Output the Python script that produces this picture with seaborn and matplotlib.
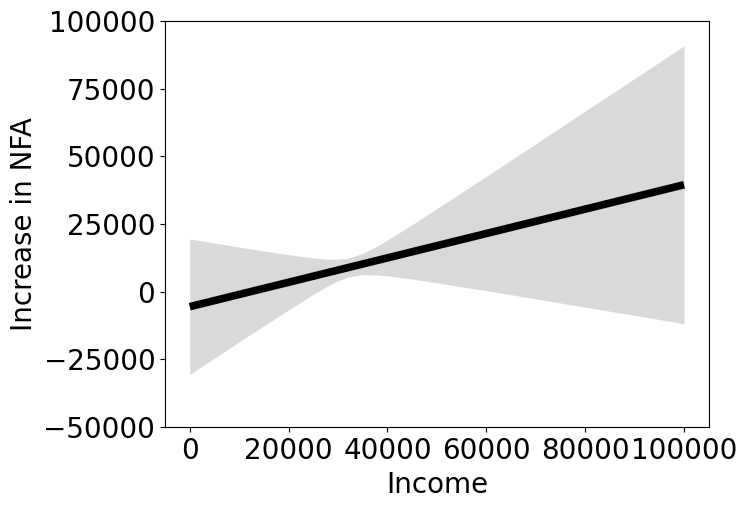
import numpy as np
import pandas as pd
import seaborn as sns
import matplotlib.pyplot as plt

# values (income, fitted NFA increase, band edges)
income = [0, 10000, 15000, 20000, 25000, 28000, 30000, 32000, 35000, 38000,
          40000, 45000, 50000, 60000, 70000, 80000, 90000, 100000]
fitted = [-5500, -1000, 1250, 3500, 5750, 7100, 8000, 8900, 10250, 11600,
          12500, 14750, 17000, 21500, 26000, 30500, 35000, 39500]
upper = [19500, 16500, 15050, 13700, 12450, 12000, 12000, 12400, 14150, 17000,
         19100, 24800, 30700, 42600, 54600, 66700, 78700, 90800]
lower = [-30500, -18500, -12550, -6700, -950, 2200, 4000, 5400, 6350, 6200,
         5900, 4700, 3300, 400, -2600, -5700, -8700, -11800]

df = pd.DataFrame({'Income': income, 'NFA': fitted, 'lo': lower, 'hi': upper})

sns.set_style('ticks')
plt.rcParams['font.family'] = ['DejaVu Sans']
plt.rcParams['text.color'] = 'black'
plt.rcParams['axes.labelcolor'] = 'black'
plt.rcParams['xtick.color'] = 'black'
plt.rcParams['ytick.color'] = 'black'

fig, ax = plt.subplots(figsize=(7.48, 5.08), dpi=100)
ax.fill_between(df['Income'], df['lo'], df['hi'], color='#d9d9d9', linewidth=0)
sns.lineplot(data=df, x='Income', y='NFA', color='black', linewidth=5.5,
             solid_capstyle='butt', ax=ax)

ax.set_xlim(-5000, 105000)
ax.set_ylim(-50000, 100000)
ax.set_xticks([0, 20000, 40000, 60000, 80000, 100000])
ax.set_yticks([-50000, -25000, 0, 25000, 50000, 75000, 100000])
ax.set_xlabel('Income', fontsize=20)
ax.set_ylabel('Increase in NFA', fontsize=20)
ax.tick_params(labelsize=20, colors='black')
for s in ax.spines.values():
    s.set_visible(True)
    s.set_color('black')

plt.subplots_adjust(left=0.2206, right=0.9475, top=0.959, bottom=0.159)
plt.savefig('out.png', dpi=100)
